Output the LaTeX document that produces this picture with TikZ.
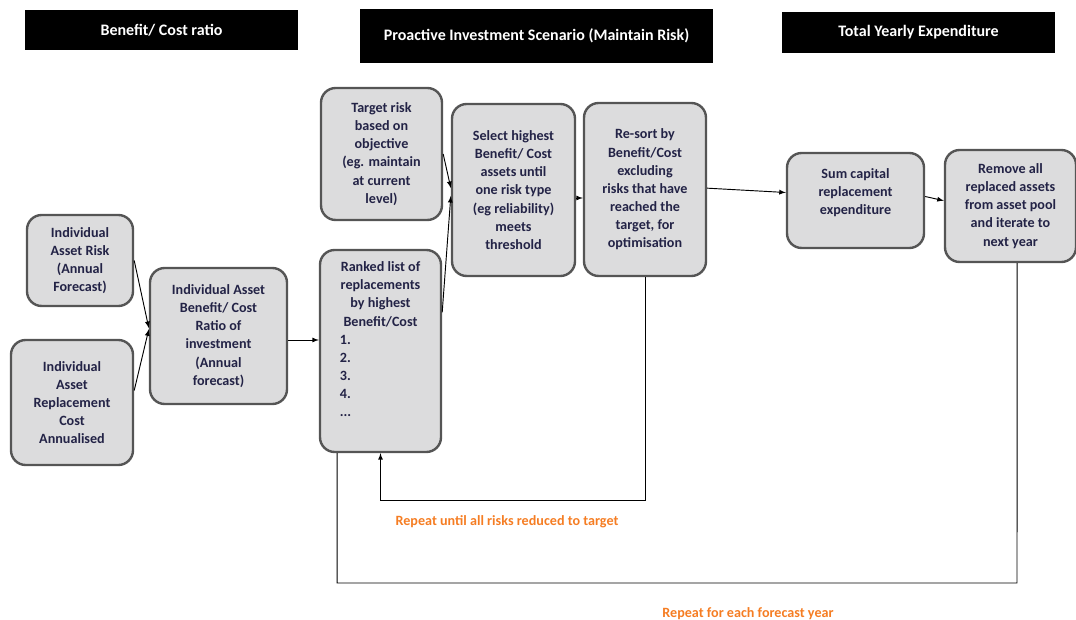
\documentclass[tikz,border=0pt]{standalone}
\usepackage{fontspec}
\setmainfont{Carlito}
\usepackage{tikz}
\usetikzlibrary{arrows}
\definecolor{boxfill}{RGB}{220,220,221}
\definecolor{boxline}{RGB}{85,85,85}
\definecolor{boxtext}{RGB}{35,35,70}
\definecolor{loopnote}{RGB}{245,125,35}
\newcommand{\rankitem}[1]{\makebox[61pt][l]{#1}}

\begin{document}
\begin{tikzpicture}[x=0.75pt, y=-0.75pt,
			>=latex,   %arrow tips
			box/.style={draw=boxline, fill=boxfill, line width=1.8pt, rounded corners=11pt, align=center, text=boxtext, font=\fontsize{10.6}{13.6}\selectfont\bfseries, inner sep=2pt},
			head/.style={fill=black, text=white, font=\fontsize{12}{14}\selectfont\bfseries, inner sep=0pt},
			note/.style={text=loopnote, font=\fontsize{10.6}{12}\selectfont\bfseries},
			conn/.style={->, line width=0.7pt}]
			\useasboundingbox (0,0) rectangle (1076,620);
			%headers
			\node[head, minimum width=204.75pt, minimum height=30pt] (hbc) at (161.5,30) {Benefit/ Cost ratio};
			\node[head, minimum width=264.75pt, minimum height=40.5pt] (hpro) at (536.5,36) {Proactive Investment Scenario (Maintain Risk)};
			\node[head, minimum width=204.75pt, minimum height=30.75pt] (htot) at (918.5,32.5) {Total Yearly Expenditure};
			%boxes
			\node[box, minimum width=79.5pt, minimum height=68.25pt] (risk) at (80,260.5) {Individual\\Asset Risk\\(Annual\\Forecast)};
			\node[box, minimum width=91.5pt, minimum height=93.75pt] (cost) at (72,402.5) {Individual\\Asset\\Replacement\\Cost\\Annualised};
			\node[box, minimum width=102.75pt, minimum height=102pt] (ratio) at (218.5,336) {Individual Asset\\Benefit/ Cost\\Ratio of\\investment\\(Annual\\forecast)};
			\node[box, minimum width=90.75pt, minimum height=99pt] (target) at (381.5,154) {Target risk\\based on\\objective\\(eg. maintain\\at current\\level)};
			\node[box, minimum width=90.75pt, minimum height=151.5pt] (ranked) at (380.5,351) {Ranked list of\\replacements\\by highest\\Benefit/Cost\\\rankitem{1.}\\\rankitem{2.}\\\rankitem{3.}\\\rankitem{4.}\\\rankitem{...}\\[4pt]};
			\node[box, minimum width=92.25pt, minimum height=129pt] (select) at (513.5,190) {Select highest\\Benefit/ Cost\\assets until\\one risk type\\(eg reliability)\\meets\\threshold};
			\node[box, minimum width=91.5pt, minimum height=129.75pt] (resort) at (645,189.5) {Re-sort by\\Benefit/Cost\\excluding\\risks that have\\reached the\\target, for\\optimisation};
			\node[box, minimum width=102.75pt, minimum height=71.25pt] (sum) at (855.5,200.5) {Sum capital\\replacement\\expenditure\\\mbox{}};
			\node[box, minimum width=98.25pt, minimum height=84pt] (remove) at (1010.5,206) {Remove all\\replaced assets\\from asset pool\\and iterate to\\next year};
			%loop notes
			\node[note] (untilnote) at (507,522) {Repeat until all risks reduced to target};
			\node[note] (yearnote) at (748,614) {Repeat for each forecast year};
			\coordinate (loopa) at (0,500);
			\coordinate (loopb) at (1017,583);
			%connectors
			\draw[conn] ([yshift=0pt]risk.east) -- ([yshift=6pt]ratio.west);
			\draw[conn] ([yshift=9pt]cost.east) -- ([yshift=5pt]ratio.west);
			\draw[conn] ([yshift=-3pt]ratio.east) -- ([yshift=-3pt]ratio.east -| ranked.west);
			\draw[conn] (target.east) -- ([yshift=1.5pt]select.west);
			\draw[conn] ([yshift=29pt]ranked.east) -- ([yshift=-4.5pt]select.west);
			\draw[conn] ([yshift=-6pt]select.east) -- ([yshift=-6pt]select.east -| resort.west);
			\draw[conn] ([yshift=1pt]resort.east) -- ([yshift=6pt]sum.west);
			\draw[conn] ([yshift=3pt]sum.east) -- ([yshift=4pt]remove.west);
			\draw[conn] (resort.south) -- (resort.south |- loopa) -| (ranked.south);
			\draw[line width=0.7pt] ([xshift=-32.5pt]ranked.south) |- (loopb) -- ([xshift=5pt]remove.south);
		\end{tikzpicture}
\end{document}
